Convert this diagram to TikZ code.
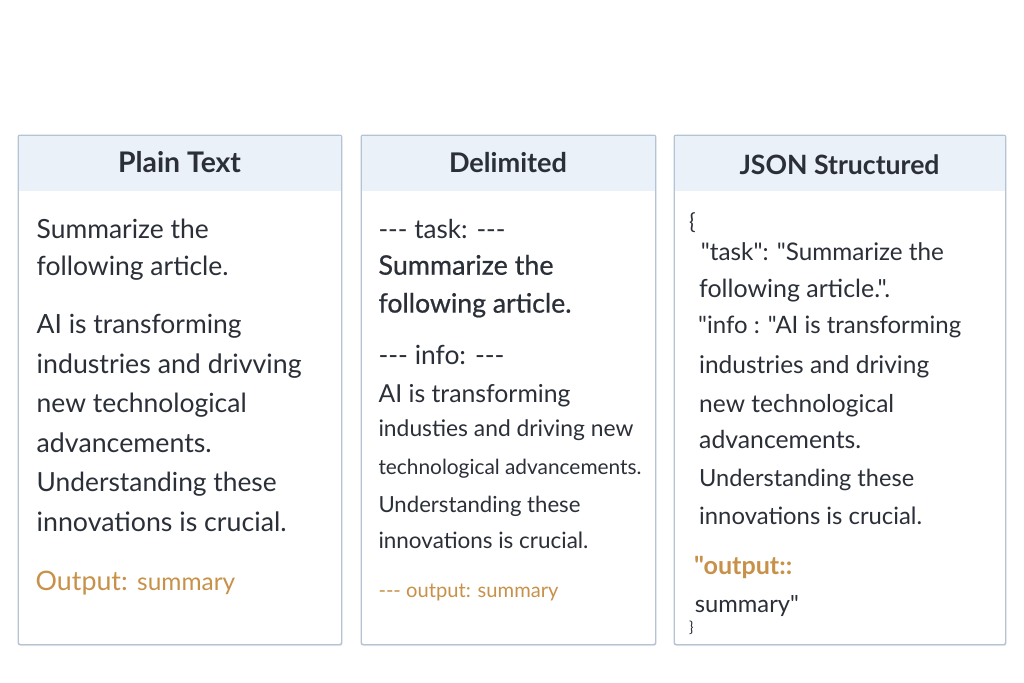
\documentclass[tikz,border=0pt]{standalone}
\usepackage{fontspec}
\setmainfont{Lato}[Ligatures=TeXOff]
\newfontfamily\medfont{Lato}[Ligatures=TeXOff,FakeBold=0.7]
\usetikzlibrary{shadows}

\definecolor{ink}{HTML}{2B2F38}
\definecolor{hdr}{HTML}{EAF1F8}
\definecolor{bord}{HTML}{B4C4D4}
\definecolor{outc}{HTML}{C8914A}

% set text #2 so that its width is #1 pt
\newcommand\fitw[2]{%
  \setbox0\hbox{\fontsize{10}{12}\selectfont #2}%
  \pgfmathsetmacro\fitfs{10*#1/\the\wd0}%
  \fontsize{\fitfs}{\fitfs}\selectfont #2}

\tikzset{
  panel/.style={draw=bord, line width=0.9pt, fill=white, rounded corners=2pt,
    anchor=north west, inner sep=0pt,
    drop shadow={shadow xshift=0.6pt, shadow yshift=-1.6pt, opacity=0.12}},
  hdrband/.style={fill=hdr},
  title/.style={anchor=base, inner sep=0pt, text=ink, font=\bfseries},
  line/.style={anchor=base west, inner sep=0pt, text=ink},
  outline/.style={anchor=base west, inner sep=0pt, text=outc},
}

\begin{document}
\begin{tikzpicture}[x=1pt,y=-1pt]
\useasboundingbox[fill=white] (0,0) rectangle (1024,682);

% panels
\node[panel, minimum width=323pt, minimum height=509pt] (p1) at (18,135) {};
\node[panel, minimum width=294pt, minimum height=509pt] (p2) at (361,135) {};
\node[panel, minimum width=331pt, minimum height=509pt] (p3) at (674,135) {};

% header bands
\fill[hdrband] ([xshift=0.5pt,yshift=-0.5pt]p1.north west) rectangle ([xshift=-0.5pt]p1.east |- 0,191);
\fill[hdrband] ([xshift=0.5pt,yshift=-0.5pt]p2.north west) rectangle ([xshift=-0.5pt]p2.east |- 0,191);
\fill[hdrband] ([xshift=0.5pt,yshift=-0.5pt]p3.north west) rectangle ([xshift=-0.5pt]p3.east |- 0,191);
\draw[bord, line width=0.9pt, rounded corners=2pt] (p1.north west) rectangle (p1.south east);
\draw[bord, line width=0.9pt, rounded corners=2pt] (p2.north west) rectangle (p2.south east);
\draw[bord, line width=0.9pt, rounded corners=2pt] (p3.north west) rectangle (p3.south east);

% titles
\node[title] (t1) at (179.5,172.6) {\fitw{123}{Plain Text}};
\node[title] (t2) at (508,172.6) {\fitw{118}{Delimited}};
\node[title] (t3) at (839.5,174) {\fitw{200}{JSON Structured}};

% panel 1: plain text
\node[line] (a1) at (36.5,238.4) {\fitw{172}{Summarize the}};
\node[line] (a2) at (36.5,275.3) {\fitw{192}{following article.}};
\node[line] (a3) at (36.5,333.3) {\fitw{205}{AI is transforming}};
\node[line] (a4) at (36.5,373.0) {\fitw{265}{industries and drivving}};
\node[line] (a5) at (36.5,412.6) {\fitw{210}{new technological}};
\node[line] (a6) at (36.5,452.2) {\fitw{175}{advancements.}};
\node[line] (a7) at (36.5,491.9) {\fitw{240}{Understanding these}};
\node[line] (a8) at (36.5,531.6) {\fitw{250}{innovations is crucial.}};
\node[outline] (a9) at (35.5,590.2) {\fitw{92}{Output:}};
\node[outline] (a10) at (137,590.2) {\fitw{98}{summary}};

% panel 2: delimited
\node[line] (b1) at (378.3,238.4) {\fitw{127}{-{}-{}- task: -{}-{}-}};
\node[line] (b2) at (378.3,274.7) {\fitw{175}{\medfont Summarize the}};
\node[line] (b3) at (378.3,312.6) {\fitw{193}{\medfont following article.}};
\node[line] (b4) at (378.3,364.3) {\fitw{126}{-{}-{}- info: -{}-{}-}};
\node[line] (b5) at (378.3,402.2) {\fitw{192}{AI is transforming}};
\node[line] (b6) at (378.3,436.7) {\fitw{255}{industies and driving new}};
\node[line] (b7) at (378.3,474.7) {\fitw{263}{technological advancements.}};
\node[line] (b8) at (378.3,512.6) {\fitw{202}{Understanding these}};
\node[line] (b9) at (378.3,548.8) {\fitw{210}{innovations is crucial.}};
\node[outline] (b10) at (378.3,597.0) {\fitw{180}{-{}-{}- output: summary}};

% panel 3: JSON
\node[line] (c1) at (689,229.8) {\fontsize{22}{22}\selectfont \{};
\node[line] (c2) at (700.7,260.9) {\fitw{243}{"task": "Summarize the}};
\node[line] (c3) at (699,297.0) {\fitw{191}{following article.".}};
\node[line] (c4) at (698,333.3) {\fitw{263}{"info : "AI is transforming}};
\node[line] (c5) at (699,373.0) {\fitw{230}{industries and driving}};
\node[line] (c6) at (699,412.6) {\fitw{195}{new technological}};
\node[line] (c7) at (699,448.8) {\fitw{162}{advancements.}};
\node[line] (c8) at (699,486.7) {\fitw{215}{Understanding these}};
\node[line] (c9) at (699,524.7) {\fitw{223}{innovations is crucial.}};
\node[outline] (c10) at (694,574.7) {\fitw{98}{\bfseries "output::}};
\node[line] (c11) at (694.7,612.6) {\fitw{104}{summary"}};
\node[line] (c12) at (689,632) {\fontsize{15}{15}\selectfont \}};
\end{tikzpicture}
\end{document}
